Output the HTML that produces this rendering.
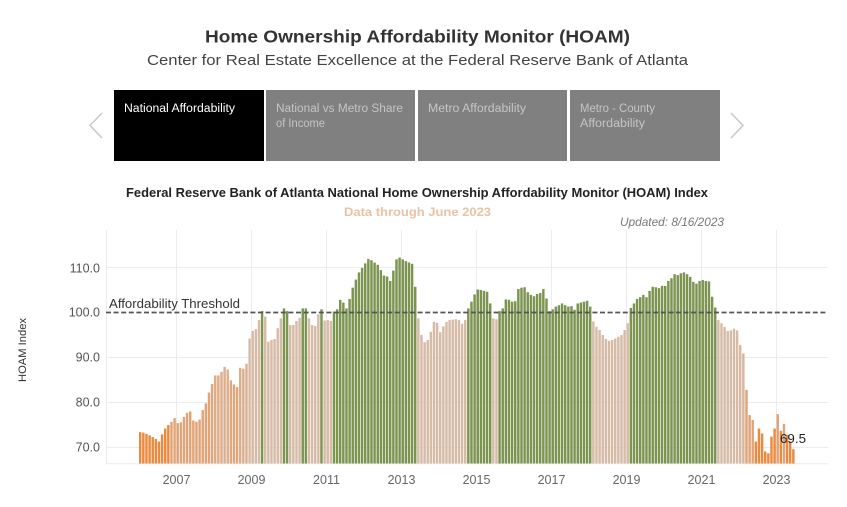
<!DOCTYPE html>
<html><head><meta charset="utf-8">
<style>
html,body{margin:0;padding:0;background:#fff;}
svg{display:block;font-family:"Liberation Sans",sans-serif;}
</style></head>
<body>
<svg id="s" width="847" height="507" viewBox="0 0 847 507" xmlns="http://www.w3.org/2000/svg">
<rect width="847" height="507" fill="#fff"/>

<!-- Header -->
<text x="417.5" y="42.5" text-anchor="middle" font-size="17.5" font-weight="bold" fill="#333" textLength="425" lengthAdjust="spacingAndGlyphs">Home Ownership Affordability Monitor (HOAM)</text>
<text x="417.5" y="65" text-anchor="middle" font-size="15" fill="#444" textLength="541" lengthAdjust="spacingAndGlyphs">Center for Real Estate Excellence at the Federal Reserve Bank of Atlanta</text>

<!-- Tabs -->
<rect x="114" y="90" width="150" height="71" fill="#000"/>
<rect x="266" y="90" width="149" height="71" fill="#808080"/>
<rect x="418" y="90" width="149" height="71" fill="#808080"/>
<rect x="570" y="90" width="150" height="71" fill="#808080"/>
<text x="124" y="112" font-size="11.5" fill="#fff" textLength="111" lengthAdjust="spacingAndGlyphs">National Affordability</text>
<text x="276" y="112" font-size="11.5" fill="#c4c4c4" textLength="127" lengthAdjust="spacingAndGlyphs">National  vs  Metro Share</text>
<text x="276" y="127" font-size="11.5" fill="#c4c4c4" textLength="49" lengthAdjust="spacingAndGlyphs">of Income</text>
<text x="428" y="112" font-size="11.5" fill="#c4c4c4" textLength="98" lengthAdjust="spacingAndGlyphs">Metro Affordability</text>
<text x="580" y="112" font-size="11.5" fill="#c4c4c4" textLength="75" lengthAdjust="spacingAndGlyphs">Metro - County</text>
<text x="580" y="127" font-size="11.5" fill="#c4c4c4" textLength="65" lengthAdjust="spacingAndGlyphs">Affordability</text>
<polyline points="102,113 90,125.5 102,138" fill="none" stroke="#c8c8c8" stroke-width="1.5"/>
<polyline points="731,113 743,125.5 731,138" fill="none" stroke="#c8c8c8" stroke-width="1.5"/>

<!-- Chart titles -->
<text x="126" y="197" font-size="12.5" font-weight="bold" fill="#222" textLength="582" lengthAdjust="spacingAndGlyphs">Federal Reserve Bank of Atlanta National Home Ownership Affordability Monitor (HOAM) Index</text>
<text x="344" y="216" font-size="12" font-weight="bold" fill="#e8c3a3" textLength="147" lengthAdjust="spacingAndGlyphs">Data through June 2023</text>
<text x="620" y="226" font-size="11.5" font-style="italic" fill="#777" textLength="104" lengthAdjust="spacingAndGlyphs">Updated: 8/16/2023</text>

<!-- Grid -->
<g stroke="#ececec" stroke-width="1">
  <line x1="106" y1="267.5" x2="828" y2="267.5"/>
  <line x1="106" y1="357.5" x2="828" y2="357.5"/>
  <line x1="106" y1="402.5" x2="828" y2="402.5"/>
  <line x1="106" y1="447.5" x2="828" y2="447.5"/>
  <line x1="106.5" y1="230" x2="106.5" y2="464"/>
  <line x1="176.5" y1="230" x2="176.5" y2="464"/>
  <line x1="251.5" y1="230" x2="251.5" y2="464"/>
  <line x1="326.5" y1="230" x2="326.5" y2="464"/>
  <line x1="401.5" y1="230" x2="401.5" y2="464"/>
  <line x1="476.5" y1="230" x2="476.5" y2="464"/>
  <line x1="551.5" y1="230" x2="551.5" y2="464"/>
  <line x1="626.5" y1="230" x2="626.5" y2="464"/>
  <line x1="701.5" y1="230" x2="701.5" y2="464"/>
  <line x1="776.5" y1="230" x2="776.5" y2="464"/>
  <line x1="106" y1="463.8" x2="828" y2="463.8"/>
</g>

<!-- Axis labels -->
<g font-size="12.5" fill="#555" text-anchor="end">
  <text x="100" y="272.5">110.0</text>
  <text x="100" y="316.5">100.0</text>
  <text x="100" y="361.5">90.0</text>
  <text x="100" y="406.5">80.0</text>
  <text x="100" y="451.5">70.0</text>
</g>
<text transform="translate(26,350) rotate(-90)" text-anchor="middle" font-size="11" fill="#333" textLength="64" lengthAdjust="spacingAndGlyphs">HOAM Index</text>
<g font-size="12.5" fill="#666" text-anchor="middle">
  <text x="176.5" y="484">2007</text>
  <text x="251.5" y="484">2009</text>
  <text x="326.5" y="484">2011</text>
  <text x="401.5" y="484">2013</text>
  <text x="476.5" y="484">2015</text>
  <text x="551.5" y="484">2017</text>
  <text x="626.5" y="484">2019</text>
  <text x="701.5" y="484">2021</text>
  <text x="776.5" y="484">2023</text>
</g>

<!-- Bars -->
<g id="bars"></g>

<!-- Threshold -->
<line x1="106" y1="312.5" x2="828" y2="312.5" stroke="#555" stroke-width="1.8" stroke-dasharray="5,2.6"/>
<text x="109" y="308" font-size="12.5" fill="#333" textLength="131" lengthAdjust="spacingAndGlyphs">Affordability Threshold</text>
<text x="780" y="443" font-size="13" fill="#222" textLength="26" lengthAdjust="spacingAndGlyphs">69.5</text>
</svg>
<script>
(function(){
var v=[
73.3,73.2,72.9,72.6,72.2,71.8,71.2,72.8,74.1,74.9,75.6,76.4,
75.3,75.5,76.7,77.6,77.9,75.9,75.6,76.1,78.2,79.7,82.1,84.0,
85.9,85.9,86.7,87.8,87.2,84.8,83.9,83.3,87.6,87.4,88.5,94.1,
95.8,96.2,98.2,100.2,99.0,93.4,93.8,94.0,96.4,98.6,100.8,100.2,
97.1,97.1,98.0,98.7,100.8,100.8,98.6,97.1,96.9,99.5,100.6,98.1,
98.2,98.0,100.1,100.6,102.7,102.1,100.8,102.9,105.4,107.2,108.8,109.8,
110.8,111.8,111.5,111.0,110.5,109.3,108.1,107.9,106.9,109.2,111.7,112.1,
111.7,111.3,111.0,110.7,105.6,98.6,94.9,93.3,93.8,95.6,97.8,97.6,
95.5,96.8,97.8,98.2,98.3,98.4,98.2,97.4,98.2,100.8,102.3,103.9,
105.0,104.9,104.7,104.5,101.9,98.6,98.4,100.2,100.8,102.8,102.7,102.3,
102.4,105.1,105.4,105.5,104.4,103.8,103.5,104.0,104.2,105.1,103.0,100.2,
100.6,101.2,101.5,101.9,101.5,101.2,101.3,100.5,101.9,102.1,102.3,102.5,
101.2,97.9,96.7,96.0,94.9,94.0,93.6,93.8,94.1,94.5,94.9,96.0,
97.5,100.9,101.9,102.9,103.3,103.8,103.3,104.7,105.6,105.5,105.3,105.8,
105.8,106.9,107.5,108.4,108.2,108.6,108.8,108.4,107.8,106.7,106.3,106.9,
107.1,106.9,106.8,103.4,101.0,98.2,97.5,96.7,95.8,95.9,96.3,95.9,
92.7,90.8,82.7,77.1,76.0,71.2,74.1,73.0,69.0,68.6,72.3,74.1,
77.3,73.6,75.1,72.7,71.2,69.5];
function col(d){
  if(d>=100) return '#7b9450';
  if(d<75) return '#e98a3f';
  var t=(d-83)/(93-83); if(t<0)t=0; if(t>1)t=1;
  var a=[224,164,120], b=[214,187,167];
  var r=Math.round(a[0]+(b[0]-a[0])*t), g=Math.round(a[1]+(b[1]-a[1])*t), bl=Math.round(a[2]+(b[2]-a[2])*t);
  return 'rgb('+r+','+g+','+bl+')';
}
var ns='http://www.w3.org/2000/svg';
var grp=document.getElementById('bars');
for(var i=0;i<v.length;i++){
  var x=139+i*3.125, y=312-(v[i]-100)*4.5;
  var r=document.createElementNS(ns,'rect');
  r.setAttribute('x',x.toFixed(3));
  r.setAttribute('y',y.toFixed(2));
  r.setAttribute('width','2.45');
  r.setAttribute('height',(463.5-y).toFixed(2));
  r.setAttribute('fill',col(v[i]));
  grp.appendChild(r);
}
})();
</script>
</body></html>
